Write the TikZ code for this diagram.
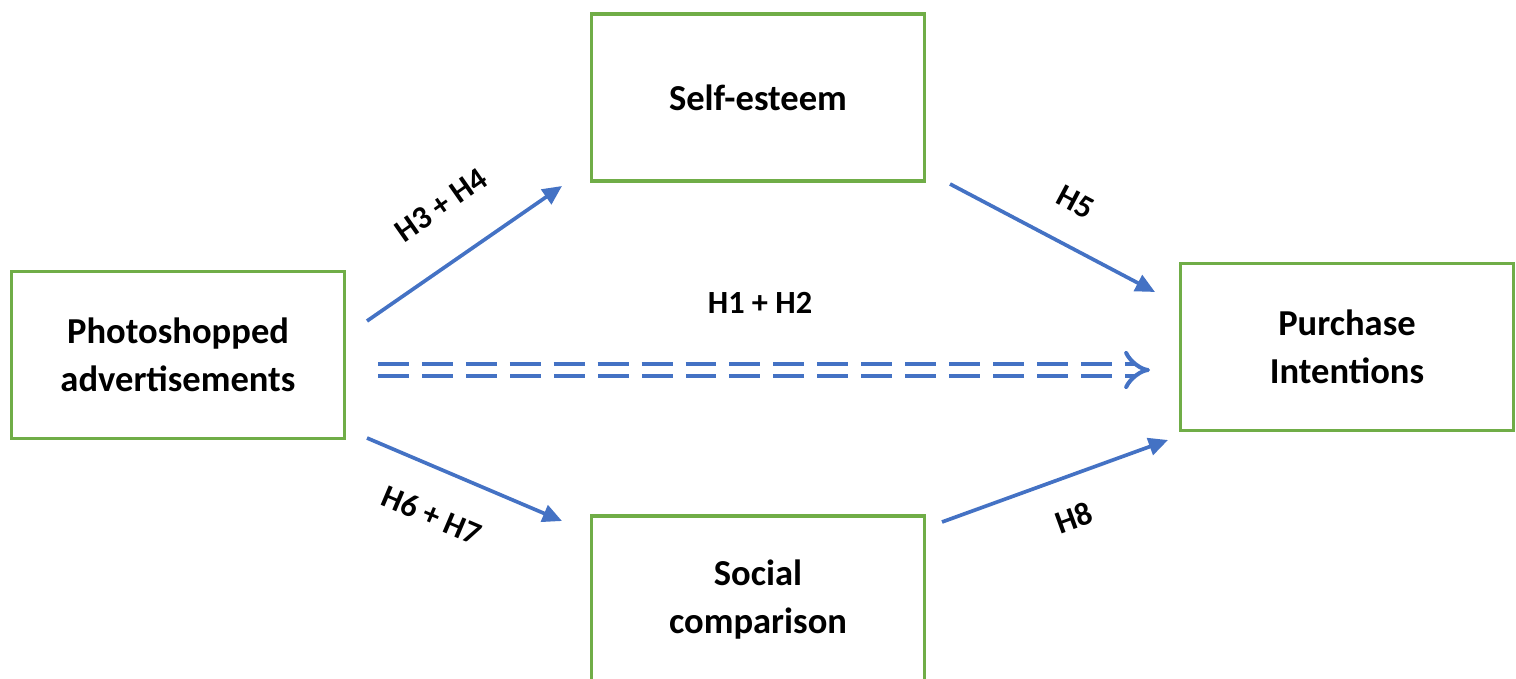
\documentclass[tikz,border=0pt]{standalone}
\usepackage{fontspec}
\setmainfont{Carlito}
\usetikzlibrary{arrows.meta, calc}
\definecolor{boxgreen}{RGB}{112,173,71}
\definecolor{arrowblue}{RGB}{68,114,196}

\begin{document}
\begin{tikzpicture}[box/.style={draw=boxgreen, line width=1.1pt, minimum width=3.33cm, minimum height=1.67cm, inner sep=0pt, align=center, font=\fontsize{10.4}{13.5}\selectfont\bfseries},
  link/.style={arrowblue, line width=1.05pt, -{Triangle[length=5.5pt, width=5pt]}},
  dbl/.style={arrowblue, line width=1.15pt, double, double distance=2.5pt, dash pattern=on 8.8pt off 3.7pt, -{Implies}},
  hyp/.style={font=\fontsize{9.2}{11}\selectfont\bfseries}]
  \useasboundingbox (0,0) rectangle (15.16,-6.79);
  % constructs
  \node[box] (photo) at (1.78,-3.55) {Photoshopped\\advertisements};
  \node[box] (self) at (7.58,-0.975) {Self-esteem};
  \node[box] (purch) at (13.47,-3.47) {Purchase\\Intentions};
  \node[box] (social) at (7.58,-5.995) {Social\\comparison};
  % arrow ends
  \coordinate (p1) at (3.67,-3.21); \coordinate (s1) at (5.62,-1.86);
  \coordinate (p2) at (3.67,-4.38); \coordinate (c1) at (5.62,-5.21);
  \coordinate (s2) at (9.50,-1.84); \coordinate (u1) at (11.55,-2.92);
  \coordinate (c2) at (9.42,-5.22); \coordinate (u2) at (11.68,-4.40);
  \coordinate (p3) at (3.78,-3.70); \coordinate (u3) at (11.50,-3.70);
  \draw[link] (p1) -- (s1);
  \draw[link] (p2) -- (c1);
  \draw[link] (s2) -- (u1);
  \draw[link] (c2) -- (u2);
  \draw[dbl] (p3) -- (u3);
  % hypotheses
  \node[hyp, rotate=35] (h34) at (4.41,-2.05) {H3 + H4};
  \node[hyp] (h12) at (7.60,-3.03) {H1 + H2};
  \node[hyp, rotate=-28] (h5) at (10.76,-2.02) {H5};
  \node[hyp, rotate=-23] (h67) at (4.32,-5.15) {H6 + H7};
  \node[hyp, rotate=20] (h8) at (10.74,-5.18) {H8};
\end{tikzpicture}
\end{document}
